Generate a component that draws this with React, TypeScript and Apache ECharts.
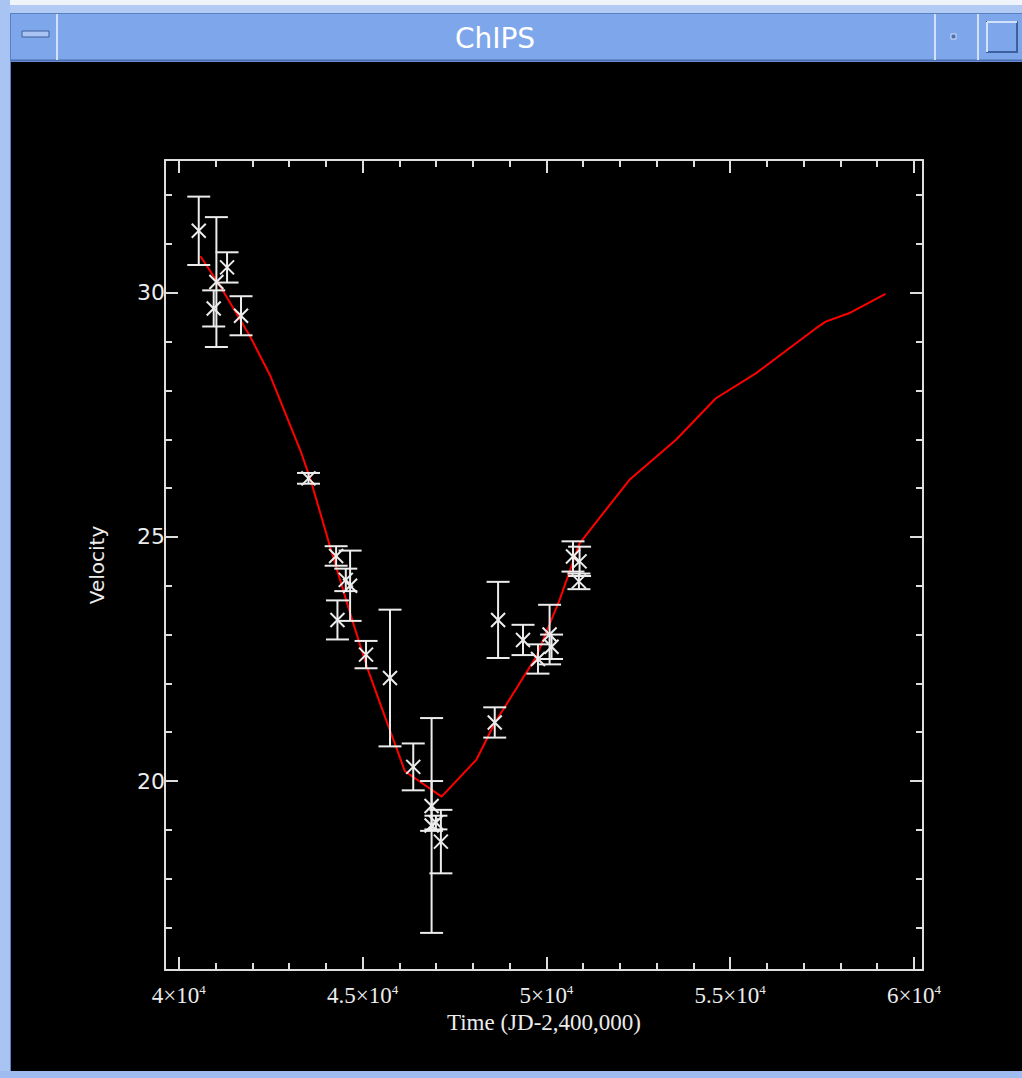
import React, { useEffect, useRef } from "react";
import * as echarts from "echarts";

// Observed radial velocities (time in JD-2,400,000, velocity, 1-sigma error)
const obsTime = [40543, 40950, 41023, 41313, 41693, 43528, 44280, 44316, 44543, 44660, 45094, 45746, 46378, 46877, 46877, 46995, 47130, 48595, 48686, 49364, 49771, 50087, 50140, 50724, 50885, 50903];
const obsVel = [31.27, 29.68, 30.22, 30.52, 29.53, 26.2, 24.61, 23.3, 24.12, 24.0, 22.59, 22.11, 20.29, 19.49, 19.09, 19.15, 18.76, 21.2, 23.3, 22.89, 22.5, 23.0, 22.75, 24.6, 24.09, 24.5];
const obsErr = [0.7, 0.37, 1.33, 0.31, 0.4, 0.11, 0.2, 0.4, 0.23, 0.72, 0.28, 1.4, 0.48, 0.51, 2.2, 0.14, 0.65, 0.31, 0.78, 0.31, 0.3, 0.61, 0.25, 0.31, 0.16, 0.3];

// Model curve
const modelTime = [40589, 41132, 41946, 42489, 43303, 43574, 44117, 44660, 45113, 45520, 46152, 47149, 48099, 48595, 49727, 50359, 50903, 52260, 53527, 54612, 55698, 57326, 57598, 58230, 59226];
const modelVel = [30.75, 30.13, 29.1, 28.3, 26.78, 26.2, 24.8, 23.44, 22.35, 21.5, 20.2, 19.68, 20.44, 21.19, 22.55, 23.71, 24.87, 26.17, 26.99, 27.84, 28.35, 29.27, 29.41, 29.58, 29.98];

// Axes
const xMin = 39625;
const xMax = 60245;
const yMin = 16.13;
const yMax = 32.72;
const xMajorTicks = [40000, 45000, 50000, 55000, 60000];
const xMinorTicks = [41000, 42000, 43000, 44000, 46000, 47000, 48000, 49000, 51000, 52000, 53000, 54000, 56000, 57000, 58000, 59000];
const yMajorTicks = [20, 25, 30];
const yMinorTicks = [17, 18, 19, 21, 22, 23, 24, 26, 27, 28, 29, 31, 32];
const xLabelBases = ["4", "4.5", "5", "5.5", "6"];

const AX = "#dedede";
const TXT = "#ececec";

export default function App() {
  const ref = useRef<HTMLDivElement>(null);
  useEffect(() => {
    document.body.style.margin = "0";
    const chart = echarts.init(ref.current!, null, { renderer: "svg" });

    const axisLine = { show: true, onZero: false, lineStyle: { color: AX, width: 2 } };
    const tickStyle = { color: AX, width: 2 };

    const mkX = (pos: string, values: number[], len: number, labels: boolean, line: boolean) => ({
      type: "value",
      gridIndex: 0,
      position: pos,
      min: xMin,
      max: xMax,
      axisLine: line ? axisLine : { show: false },
      splitLine: { show: false },
      axisTick: { show: true, inside: true, length: len, customValues: values, lineStyle: tickStyle },
      axisLabel: labels
        ? {
            show: true,
            customValues: values,
            margin: 13,
            formatter: (v: number) => {
              const i = xMajorTicks.indexOf(Math.round(v));
              return `{b|${xLabelBases[i] ?? ""}×10}{s|4}`;
            },
            rich: {
              b: { fontFamily: "Liberation Serif", fontSize: 23, color: TXT, lineHeight: 24 },
              s: { fontFamily: "Liberation Serif", fontSize: 13, color: TXT, verticalAlign: "top", lineHeight: 24 },
            },
          }
        : { show: false },
    });

    const mkY = (pos: string, values: number[], len: number, labels: boolean, line: boolean) => ({
      type: "value",
      gridIndex: 0,
      position: pos,
      min: yMin,
      max: yMax,
      axisLine: line ? axisLine : { show: false },
      splitLine: { show: false },
      axisTick: { show: true, inside: true, length: len, customValues: values, lineStyle: tickStyle },
      axisLabel: labels
        ? { show: true, customValues: values, margin: 0, color: TXT, fontFamily: "DejaVu Sans", fontSize: 22 }
        : { show: false },
    });

    const xAxes: any[] = [
      {
        ...mkX("bottom", xMajorTicks, 13, true, true),
        name: "Time (JD-2,400,000)",
        nameLocation: "middle",
        nameGap: 41,
        nameTextStyle: { color: TXT, fontFamily: "Liberation Serif", fontSize: 23 },
      },
      mkX("bottom", xMinorTicks, 7, false, false),
      mkX("top", xMajorTicks, 13, false, true),
      mkX("top", xMinorTicks, 7, false, false),
    ];
    const yAxes: any[] = [
      {
        ...mkY("left", yMajorTicks, 13, true, true),
        name: "Velocity",
        nameLocation: "middle",
        nameRotate: 90,
        nameGap: 58,
        nameTextStyle: { color: TXT, fontFamily: "DejaVu Sans", fontSize: 20 },
      },
      mkY("left", yMinorTicks, 7, false, false),
      mkY("right", yMajorTicks, 13, false, true),
      mkY("right", yMinorTicks, 7, false, false),
    ];

    const obsData = obsTime.map((t, i) => [t, obsVel[i], obsErr[i]]);
    const modelData = modelTime.map((t, i) => [t, modelVel[i]]);

    const barStyle = { stroke: "#ececec", lineWidth: 2, fill: "none" };

    chart.setOption({
      animation: false,
      backgroundColor: "#000000",
      grid: { left: 165, top: 160, width: 758, height: 810, containLabel: false },
      xAxis: xAxes,
      yAxis: yAxes,
      graphic: [
        { type: "rect", shape: { x: 0, y: 0, width: 1022, height: 62 }, style: { fill: "#7ea7eb" }, z: 10 },
        { type: "rect", shape: { x: 0, y: 0, width: 1022, height: 5 }, style: { fill: "#eef3fc" }, z: 11 },
        { type: "rect", shape: { x: 0, y: 5, width: 1022, height: 8 }, style: { fill: "#b2cbf5" }, z: 11 },
        { type: "line", shape: { x1: 0, y1: 13.5, x2: 1022, y2: 13.5 }, style: { stroke: "#5a80c4", lineWidth: 1 }, z: 11 },
        { type: "line", shape: { x1: 0, y1: 60.5, x2: 1022, y2: 60.5 }, style: { stroke: "#4c70b2", lineWidth: 2 }, z: 11 },
        { type: "rect", shape: { x: 0, y: 0, width: 10, height: 1078 }, style: { fill: "#a9c4f3" }, z: 11 },
        { type: "line", shape: { x1: 10.5, y1: 13, x2: 10.5, y2: 1072 }, style: { stroke: "#5a80c4", lineWidth: 1 }, z: 11 },
        { type: "rect", shape: { x: 0, y: 1071, width: 1022, height: 7 }, style: { fill: "#9fbcf1" }, z: 11 },
        { type: "line", shape: { x1: 57, y1: 14, x2: 57, y2: 60 }, style: { stroke: "#d2e0fa", lineWidth: 2 }, z: 12 },
        { type: "line", shape: { x1: 935, y1: 14, x2: 935, y2: 60 }, style: { stroke: "#d2e0fa", lineWidth: 2 }, z: 12 },
        { type: "line", shape: { x1: 978, y1: 14, x2: 978, y2: 60 }, style: { stroke: "#d2e0fa", lineWidth: 2 }, z: 12 },
        { type: "rect", shape: { x: 22, y: 31, width: 27, height: 6 }, style: { fill: "#a9c4f3", stroke: "#3d5f9e", lineWidth: 1 }, z: 12 },
        { type: "rect", shape: { x: 951, y: 34, width: 5, height: 5 }, style: { fill: "#4c70b2", stroke: "#d2e0fa", lineWidth: 1 }, z: 12 },
        { type: "rect", shape: { x: 987, y: 22, width: 30, height: 30 }, style: { fill: "#7ea7eb", stroke: "#3d5f9e", lineWidth: 2 }, z: 12 },
        { type: "line", shape: { x1: 987, y1: 22, x2: 1017, y2: 22 }, style: { stroke: "#d2e0fa", lineWidth: 2 }, z: 13 },
        { type: "line", shape: { x1: 987, y1: 22, x2: 987, y2: 52 }, style: { stroke: "#d2e0fa", lineWidth: 2 }, z: 13 },
        {
          type: "text",
          x: 495,
          y: 38,
          z: 13,
          style: { text: "ChIPS", fill: "#ffffff", font: "28px 'DejaVu Sans'", align: "center", verticalAlign: "middle" },
        },
      ],
      series: [
        {
          type: "line",
          xAxisIndex: 0,
          yAxisIndex: 0,
          data: modelData,
          symbol: "none",
          lineStyle: { color: "#ff0000", width: 2 },
          z: 3,
        },
        {
          type: "custom",
          xAxisIndex: 0,
          yAxisIndex: 0,
          data: obsData,
          encode: { x: 0, y: 1 },
          z: 4,
          renderItem: (params: any, api: any) => {
            const x = api.value(0);
            const y = api.value(1);
            const e = api.value(2);
            const c = api.coord([x, y]);
            const t = api.coord([x, y + e]);
            const b = api.coord([x, y - e]);
            const hw = 11.5;
            const m = 7;
            return {
              type: "group",
              children: [
                { type: "line", shape: { x1: c[0], y1: t[1], x2: c[0], y2: b[1] }, style: barStyle },
                { type: "line", shape: { x1: c[0] - hw, y1: t[1], x2: c[0] + hw, y2: t[1] }, style: barStyle },
                { type: "line", shape: { x1: c[0] - hw, y1: b[1], x2: c[0] + hw, y2: b[1] }, style: barStyle },
                { type: "line", shape: { x1: c[0] - m, y1: c[1] - m, x2: c[0] + m, y2: c[1] + m }, style: barStyle },
                { type: "line", shape: { x1: c[0] - m, y1: c[1] + m, x2: c[0] + m, y2: c[1] - m }, style: barStyle },
              ],
            };
          },
        },
      ],
    });
    return () => chart.dispose();
  }, []);
  return <div ref={ref} style={{ position: "absolute", left: 0, top: 0, width: 1022, height: 1078 }} />;
}
